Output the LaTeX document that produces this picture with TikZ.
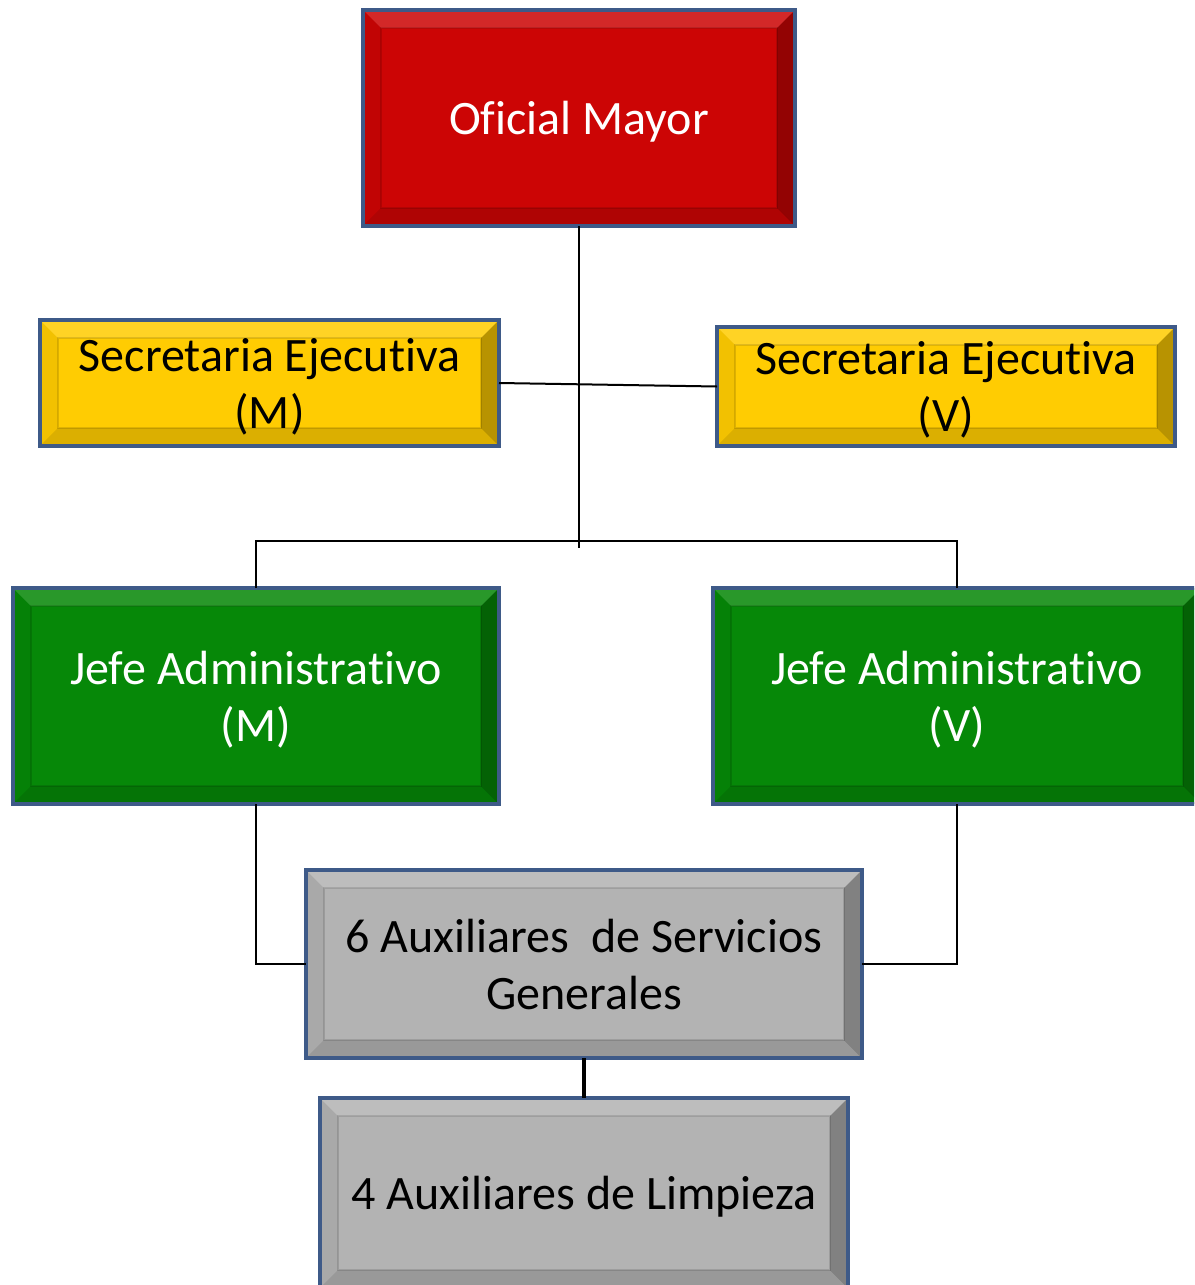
\documentclass[tikz,border=0pt]{standalone}
\usepackage{fontspec}
\setmainfont{Carlito}[Ligatures=NoCommon]
\definecolor{borde}{RGB}{62,90,136}
\definecolor{rojo}{RGB}{204,5,5}
\definecolor{amarillo}{RGB}{255,204,2}
\definecolor{verde}{RGB}{6,136,8}
\definecolor{gris}{RGB}{179,179,179}
\tikzset{
  cargo/.style={draw=borde,line width=2pt,inner sep=0pt,outer sep=0pt,align=center,text depth=0pt,
    path picture={
      \path (path picture bounding box.south west) coordinate (bsw)
            (path picture bounding box.north east) coordinate (bne);
      \fill[white,opacity=.14] (bsw |- bne) -- (bne) -- ([shift={(-9pt,-9pt)}]bne) -- ([shift={(9pt,-9pt)}]bsw |- bne) -- cycle;
      \fill[black,opacity=.28] (bne) -- (bne |- bsw) -- ([shift={(-9pt,9pt)}]bne |- bsw) -- ([shift={(-9pt,-9pt)}]bne) -- cycle;
      \fill[black,opacity=.14] (bsw) -- (bne |- bsw) -- ([shift={(-9pt,9pt)}]bne |- bsw) -- ([shift={(9pt,9pt)}]bsw) -- cycle;
      \fill[black,opacity=.05] (bsw) -- (bsw |- bne) -- ([shift={(9pt,-9pt)}]bsw |- bne) -- ([shift={(9pt,9pt)}]bsw) -- cycle;
      \draw[black,opacity=.12,line width=.6pt] ([shift={(9pt,9pt)}]bsw) rectangle ([shift={(-9pt,-9pt)}]bne);
    }},
  enlace/.style={draw=black,line width=1pt}
}
\begin{document}
\begin{tikzpicture}[x=0.5pt,y=-0.5pt,font=\fontsize{24}{28.5}\selectfont]
\useasboundingbox (0,0) rectangle (1194,1285);
\clip (0,0) rectangle (1194,1285);
% cajas
\node[cargo,fill=rojo,text=white,minimum width=216pt,minimum height=108pt] (oficial) at (579,118) {Oficial Mayor};
\node[cargo,fill=amarillo,minimum width=229.5pt,minimum height=63pt] (secm) at (269.5,383) {Secretaria Ejecutiva\\(M)};
\node[cargo,fill=amarillo,minimum width=229pt,minimum height=59.5pt] (secv) at (946,386.5) {Secretaria Ejecutiva\\(V)};
\node[cargo,fill=verde,text=white,minimum width=243pt,minimum height=108pt] (jefem) at (256,696) {Jefe Administrativo\\(M)};
\node[cargo,fill=verde,text=white,minimum width=244pt,minimum height=108pt] (jefev) at (957,696) {Jefe Administrativo\\(V)};
\node[cargo,fill=gris,minimum width=278pt,minimum height=94pt] (aux6) at (584,964) {6 Auxiliares~ de Servicios\\Generales};
\node[cargo,fill=gris,minimum width=264pt,minimum height=95pt] (aux4) at (584,1193) {4 Auxiliares de Limpieza};
% lineas
\coordinate (tronco) at (579,548);
\coordinate (rama) at (579,541);
\draw[enlace] (oficial.south) -- (tronco);
\draw[enlace] (secm.east) -- (secv.west);
\draw[enlace] (jefem.north) |- (rama) -| (jefev.north);
\draw[enlace] (jefem.south) |- (aux6.west);
\draw[enlace] (jefev.south) |- (aux6.east);
\draw[enlace,line width=2.2pt] (aux6.south) -- (aux4.north);
\end{tikzpicture}
\end{document}
